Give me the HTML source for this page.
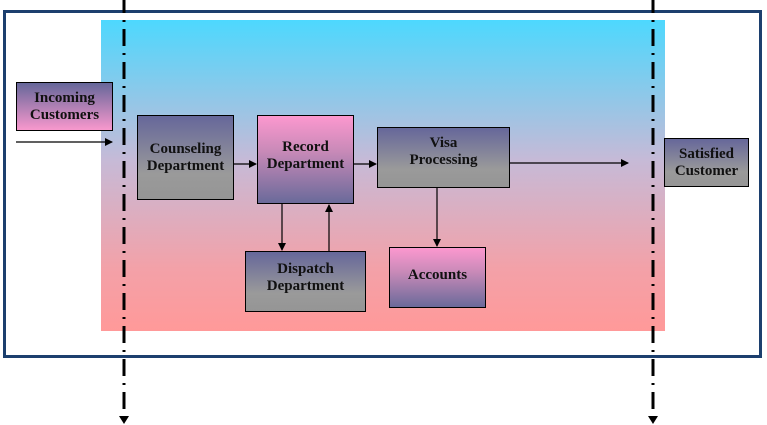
<!DOCTYPE html>
<html><head><meta charset="utf-8"><style>
body{margin:0;width:767px;height:425px;background:#fff;position:relative;overflow:hidden;font-family:"Liberation Serif",serif;}
.b{position:absolute;border:1px solid #000;box-sizing:border-box;display:flex;align-items:center;justify-content:center;text-align:center;font-weight:bold;font-size:15px;line-height:17px;color:#111;}
.pg{background:linear-gradient(#66679a,#9a9a9a 70%,#959595);}
.pp{background:linear-gradient(#fc98cf,#c98ab8 40%,#6a6a9a);}
.ip{background:linear-gradient(#66679a,#f898cd);}
</style></head><body>
<div style="position:absolute;left:3px;top:10px;width:759px;height:348px;border:3px solid #1c3f6e;box-sizing:border-box"></div>
<div style="position:absolute;left:101px;top:20px;width:564px;height:311px;background:linear-gradient(#4dd8fe,#c6bad7 45%,#f3a1a8 80%,#ff9999)"></div>
<div class="b ip" style="left:16px;top:82px;width:97px;height:49px">Incoming<br>Customers</div>
<div class="b pg" style="left:137px;top:115px;width:97px;height:85px">Counseling<br>Department</div>
<div class="b pp" style="left:257px;top:115px;width:97px;height:89px;padding-bottom:8px">Record<br>Department</div>
<div class="b pg" style="left:377px;top:127px;width:133px;height:61px;align-items:flex-start;padding-top:7px">Visa<br>Processing</div>
<div class="b pg" style="left:245px;top:251px;width:121px;height:61px;padding-bottom:8px">Dispatch<br>Department</div>
<div class="b pp" style="left:389px;top:247px;width:97px;height:61px;padding-bottom:4px">Accounts</div>
<div class="b pg" style="left:664px;top:138px;width:85px;height:49px">Satisfied<br>Customer</div>
<svg width="767" height="425" style="position:absolute;left:0;top:0">
<defs><marker id="a" markerWidth="8" markerHeight="8" refX="7" refY="4" orient="auto" markerUnits="userSpaceOnUse"><path d="M0,0L8,4L0,8z" fill="#000"/></marker></defs>
<g stroke="#000" stroke-width="1.2" fill="none" marker-end="url(#a)">
<line x1="16" y1="142" x2="112" y2="142"/>
<line x1="234" y1="164" x2="256" y2="164"/>
<line x1="354" y1="164" x2="376" y2="164"/>
<line x1="510" y1="163" x2="628" y2="163"/>
<line x1="437" y1="188" x2="437" y2="246"/>
<line x1="282" y1="204" x2="282" y2="250"/>
<line x1="329" y1="251" x2="329" y2="205"/>
</g>
<g stroke="#000" stroke-width="3" fill="none" stroke-dasharray="17,7,2,7">
<line x1="124" y1="-4" x2="124" y2="416"/>
<line x1="653" y1="-4" x2="653" y2="416"/>
</g>
<path d="M119,416L129,416L124,424z M648,416L658,416L653,424z" fill="#000"/>
</svg>
</body></html>
